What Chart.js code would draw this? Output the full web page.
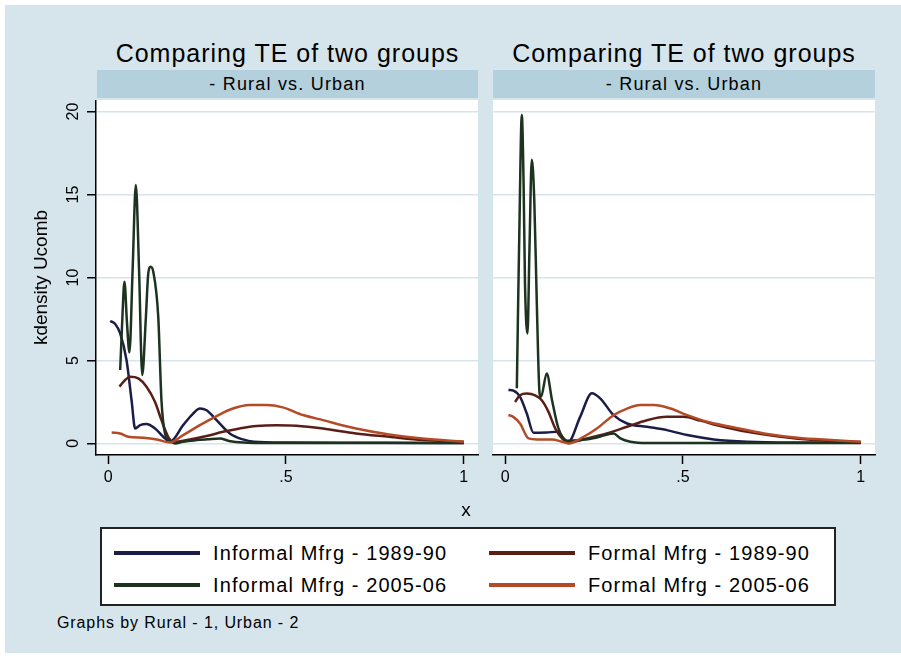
<!DOCTYPE html>
<html>
<head>
<meta charset="utf-8">
<script src="https://cdn.jsdelivr.net/npm/chart.js@4.4.1/dist/chart.umd.min.js"></script>
<style>
  body { margin: 0; background: #fff; font-family: "Liberation Sans", Arial, sans-serif; color: #000; }
  .abs { position: absolute; }
  #bg { left: 5px; top: 5px; width: 896px; height: 648px; background: #d6e5eb; }
  .title { top: 41px; height: 25px; line-height: 25px; font-size: 25px; letter-spacing: 1px; text-align: center; white-space: nowrap; }
  .strip { top: 70px; height: 28px; line-height: 28px; background: #b4d0dc; font-size: 18px; letter-spacing: 1.2px; text-align: center; }
  #xtitle { left: 446px; top: 498px; width: 40px; text-align: center; font-size: 19px; line-height: 24px; }
  #legend { left: 100px; top: 527px; width: 732px; height: 75px; background: #fff; border: 2px solid #222; }
  .lg-line { position: absolute; height: 4px; width: 86px; }
  .lg-text { position: absolute; font-size: 20px; letter-spacing: 1.1px; line-height: 24px; white-space: nowrap; }
  #note { left: 57px; top: 612px; font-size: 16px; letter-spacing: 0.9px; line-height: 22px; white-space: nowrap; }
</style>
</head>
<body>
<div id="bg" class="abs"></div>
<div class="abs title" style="left:97px;width:381px;">Comparing TE of two groups</div>
<div class="abs title" style="left:493px;width:382px;">Comparing TE of two groups</div>
<div class="abs strip" style="left:97px;width:381px;">- Rural vs. Urban</div>
<div class="abs strip" style="left:493px;width:382px;">- Rural vs. Urban</div>
<div class="abs" style="left:0;top:100px;width:480px;height:400px;"><canvas id="left" width="480" height="400"></canvas></div>
<div class="abs" style="left:480px;top:100px;width:400px;height:400px;"><canvas id="right" width="400" height="400"></canvas></div>
<div id="xtitle" class="abs">x</div>
<div id="legend" class="abs"></div>
<div id="note" class="abs">Graphs by Rural - 1, Urban - 2</div>

<script>
Chart.defaults.font.family = '"Liberation Sans", Arial, sans-serif';
Chart.defaults.color = '#000';

// axis ticks
const xTicks = [0, 0.5, 1];
const xTickLabels = ['0', '.5', '1'];
const yTicks = [0, 5, 10, 15, 20];
const yTickLabels = ['0', '5', '10', '15', '20'];

// series
const seriesLabels = ['Informal Mfrg - 1989-90', 'Formal Mfrg - 1989-90', 'Informal Mfrg - 2005-06', 'Formal Mfrg - 2005-06'];
const seriesColors = ['#1c1c48', '#5a1e16', '#1d3320', '#b44a26'];

// left panel: Rural
const lInf90X = [0.006, 0.02, 0.034, 0.052, 0.066, 0.076, 0.09, 0.108, 0.132, 0.155, 0.174, 0.211, 0.239, 0.258, 0.277, 0.305, 0.342, 0.379, 0.41, 0.5, 0.7, 0.9, 1.0];
const lInf90Y = [7.38, 7.2, 6.63, 5.0, 2.6, 0.9, 1.1, 1.17, 0.9, 0.4, 0.1, 1.1, 1.8, 2.11, 2.0, 1.4, 0.6, 0.24, 0.1, 0.05, 0.04, 0.03, 0.03];
const lFor90X = [0.032, 0.048, 0.062, 0.085, 0.108, 0.132, 0.15, 0.169, 0.183, 0.23, 0.277, 0.323, 0.37, 0.417, 0.473, 0.529, 0.604, 0.697, 0.79, 0.884, 1.0];
const lFor90Y = [3.42, 3.82, 4.02, 3.92, 3.42, 2.5, 1.4, 0.4, 0.1, 0.24, 0.44, 0.7, 0.9, 1.05, 1.1, 1.07, 0.9, 0.6, 0.4, 0.2, 0.1];
const lInf05X = [0.034, 0.04, 0.046, 0.053, 0.06, 0.069, 0.078, 0.087, 0.096, 0.106, 0.113, 0.12, 0.127, 0.141, 0.15, 0.16, 0.174, 0.188, 0.21, 0.25, 0.28, 0.314, 0.34, 0.38, 0.42, 0.6, 0.8, 1.0];
const lInf05Y = [4.42, 7.5, 9.75, 7.3, 5.49, 10.5, 15.58, 10.5, 4.12, 7.5, 10.25, 10.65, 10.35, 7.64, 2.61, 0.6, 0.15, 0.0, 0.1, 0.2, 0.25, 0.3, 0.15, 0.05, 0.03, 0.02, 0.02, 0.02];
const lFor05X = [0.01, 0.034, 0.057, 0.099, 0.137, 0.174, 0.211, 0.258, 0.305, 0.351, 0.398, 0.445, 0.491, 0.548, 0.604, 0.697, 0.79, 0.884, 1.0];
const lFor05Y = [0.66, 0.6, 0.4, 0.34, 0.24, 0.05, 0.5, 1.1, 1.65, 2.1, 2.31, 2.31, 2.17, 1.71, 1.4, 0.9, 0.54, 0.3, 0.1];

// right panel: Urban
const rInf90X = [0.0094, 0.0234, 0.042, 0.061, 0.08, 0.117, 0.146, 0.169, 0.178, 0.211, 0.244, 0.268, 0.305, 0.343, 0.399, 0.455, 0.512, 0.587, 0.681, 0.85, 1.0];
const rInf90Y = [3.22, 3.18, 2.8, 1.8, 0.64, 0.66, 0.7, 0.2, 0.1, 1.6, 3.02, 2.7, 1.7, 1.2, 1.0, 0.8, 0.5, 0.24, 0.1, 0.05, 0.04];
const rFor90X = [0.028, 0.042, 0.061, 0.0845, 0.103, 0.122, 0.141, 0.16, 0.178, 0.23, 0.286, 0.343, 0.399, 0.455, 0.502, 0.549, 0.605, 0.681, 0.775, 0.869, 1.0];
const rFor90Y = [2.5, 2.9, 3.0, 2.9, 2.6, 1.9, 0.9, 0.3, 0.06, 0.3, 0.6, 1.0, 1.4, 1.6, 1.6, 1.37, 1.05, 0.7, 0.4, 0.2, 0.08];
const rInf05X = [0.033, 0.036, 0.04, 0.047, 0.052, 0.056, 0.063, 0.0685, 0.075, 0.082, 0.089, 0.097, 0.101, 0.117, 0.132, 0.15, 0.174, 0.211, 0.258, 0.305, 0.324, 0.352, 0.4, 0.6, 0.8, 1.0];
const rInf05Y = [3.32, 7.5, 12.7, 19.8, 15.7, 9.6, 6.63, 11.7, 17.1, 14.7, 8.6, 3.0, 2.8, 4.22, 2.6, 0.9, 0.16, 0.2, 0.36, 0.6, 0.3, 0.1, 0.02, 0.02, 0.02, 0.02];
const rFor05X = [0.0094, 0.023, 0.042, 0.066, 0.089, 0.132, 0.16, 0.178, 0.221, 0.258, 0.305, 0.343, 0.38, 0.418, 0.465, 0.512, 0.568, 0.634, 0.728, 0.822, 0.916, 1.0];
const rFor05Y = [1.71, 1.6, 1.2, 0.3, 0.24, 0.24, 0.1, 0.0, 0.4, 0.9, 1.7, 2.1, 2.31, 2.31, 2.1, 1.7, 1.3, 1.0, 0.6, 0.34, 0.2, 0.1];

const pts = (xs, ys) => xs.map((x, i) => ({ x: x, y: ys[i] }));

// stata draws later series on top, chart.js draws dataset 0 on top
function makeDatasets(curves) {
  return curves.map((c, i) => ({
    label: seriesLabels[i],
    data: pts(c[0], c[1]),
    borderColor: seriesColors[i],
    borderWidth: 2.5,
    pointRadius: 0,
    cubicInterpolationMode: 'monotone',
    order: 3 - i
  }));
}

const whiteArea = {
  id: 'whiteArea',
  beforeDraw(chart) {
    const a = chart.chartArea;
    chart.ctx.save();
    chart.ctx.fillStyle = '#fff';
    chart.ctx.fillRect(a.left, a.top, a.right - a.left, a.bottom - a.top);
    chart.ctx.restore();
  }
};

// rotated y tick labels, as in the stata graph
const yLabels = {
  id: 'yLabels',
  afterDraw(chart) {
    const ctx = chart.ctx;
    const y = chart.scales.y;
    ctx.save();
    ctx.font = '16px "Liberation Sans", Arial, sans-serif';
    ctx.fillStyle = '#000';
    ctx.textAlign = 'center';
    ctx.textBaseline = 'middle';
    yTicks.forEach((v, i) => {
      ctx.save();
      ctx.translate(74, y.getPixelForValue(v));
      ctx.rotate(-Math.PI / 2);
      ctx.fillText(yTickLabels[i], 0, 0);
      ctx.restore();
    });
    ctx.restore();
  }
};

function options(isLeft) {
  return {
    responsive: false,
    animation: false,
    layout: { padding: { left: 0, top: 0, right: isLeft ? 2 : 5, bottom: 0 } },
    plugins: { legend: { display: false }, tooltip: { enabled: false } },
    scales: {
      x: {
        type: 'linear',
        min: -0.034,
        max: 1.04,
        afterBuildTicks: s => { s.ticks = xTicks.map(v => ({ value: v })); },
        afterFit: s => { s.height = 45; },
        ticks: { font: { size: 16 }, padding: 4, callback: (v, i) => xTickLabels[i] },
        grid: { drawOnChartArea: false, tickLength: 9, tickColor: '#000', tickWidth: 1.5 },
        border: { color: '#000', width: 1.5 }
      },
      y: {
        type: 'linear',
        min: -0.7,
        max: 20.7,
        afterBuildTicks: s => { s.ticks = yTicks.map(v => ({ value: v })); },
        afterFit: s => { s.width = isLeft ? 96 : 13; },
        ticks: { display: false },
        title: isLeft
          ? { display: true, text: 'kdensity Ucomb', font: { size: 19 }, padding: { top: 30, bottom: 0 } }
          : { display: false },
        grid: { color: '#d6e5eb', lineWidth: 1.5, drawTicks: isLeft, tickLength: 9, tickColor: '#000', tickWidth: 1.5 },
        border: { display: isLeft, color: '#000', width: 1.5 }
      }
    }
  };
}

new Chart(document.getElementById('left'), {
  type: 'line',
  data: { datasets: makeDatasets([[lInf90X, lInf90Y], [lFor90X, lFor90Y], [lInf05X, lInf05Y], [lFor05X, lFor05Y]]) },
  options: options(true),
  plugins: [whiteArea, yLabels]
});

new Chart(document.getElementById('right'), {
  type: 'line',
  data: { datasets: makeDatasets([[rInf90X, rInf90Y], [rFor90X, rFor90Y], [rInf05X, rInf05Y], [rFor05X, rFor05Y]]) },
  options: options(false),
  plugins: [whiteArea]
});

// legend, two columns like the stata one
const legend = document.getElementById('legend');
const colX = [12, 387];
const rowY = [24, 56];
seriesLabels.forEach((label, i) => {
  const col = i % 2, row = Math.floor(i / 2);
  const line = document.createElement('div');
  line.className = 'lg-line';
  line.style.left = colX[col] + 'px';
  line.style.top = (rowY[row] - 2) + 'px';
  line.style.background = seriesColors[i];
  legend.appendChild(line);
  const text = document.createElement('div');
  text.className = 'lg-text';
  text.style.left = (colX[col] + 99) + 'px';
  text.style.top = (rowY[row] - 12) + 'px';
  text.textContent = label;
  legend.appendChild(text);
});
</script>
</body>
</html>
